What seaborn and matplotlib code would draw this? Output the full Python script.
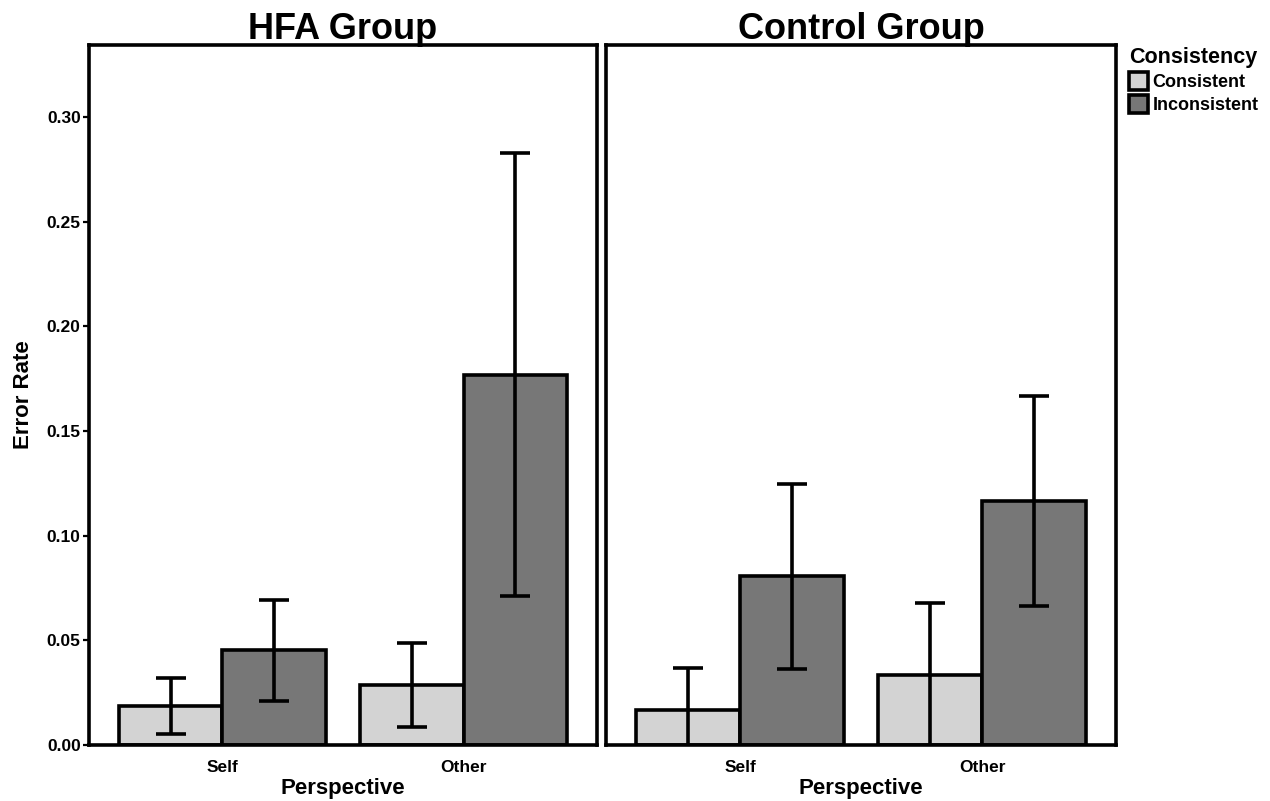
import matplotlib
matplotlib.use('Agg')
import matplotlib.pyplot as plt
from matplotlib.patches import Patch
import seaborn as sns
import pandas as pd

# values
groups = ['HFA Group', 'Control Group']
perspectives = ['Self', 'Other']
consistency = ['Consistent', 'Inconsistent']

# order: (Self, Consistent), (Self, Inconsistent), (Other, Consistent), (Other, Inconsistent)
hfa_rate = [0.0186, 0.0454, 0.0287, 0.1770]
hfa_low = [0.0055, 0.0210, 0.0086, 0.0712]
hfa_high = [0.0320, 0.0693, 0.0487, 0.2830]

ctrl_rate = [0.0167, 0.0807, 0.0334, 0.1166]
ctrl_low = [-0.0030, 0.0363, -0.0010, 0.0664]
ctrl_high = [0.0368, 0.1247, 0.0678, 0.1667]

colors = {'Consistent': '#D3D3D3', 'Inconsistent': '#777777'}

rows = []
for g, rates, lows, highs in [(groups[0], hfa_rate, hfa_low, hfa_high),
                              (groups[1], ctrl_rate, ctrl_low, ctrl_high)]:
    i = 0
    for p in perspectives:
        for c in consistency:
            rows.append({'Group': g, 'Perspective': p, 'Consistency': c,
                         'Rate': rates[i], 'Low': lows[i], 'High': highs[i]})
            i += 1
df = pd.DataFrame(rows)

sns.set_style('white')
plt.rcParams['font.family'] = ['Liberation Sans', 'DejaVu Sans']
plt.rcParams['font.weight'] = 'bold'
plt.rcParams['text.color'] = 'black'
plt.rcParams['axes.labelcolor'] = 'black'
plt.rcParams['xtick.color'] = 'black'
plt.rcParams['ytick.color'] = 'black'

lw = 2.6

fig = plt.figure(figsize=(12.7, 8.01), dpi=100)
ax1 = fig.add_axes([0.0701, 0.0699, 0.4000, 0.8739])
ax2 = fig.add_axes([0.4772, 0.0699, 0.4016, 0.8739])

for ax, g in [(ax1, groups[0]), (ax2, groups[1])]:
    sub = df[df['Group'] == g]
    sns.barplot(data=sub, x='Perspective', y='Rate', hue='Consistency',
                order=perspectives, hue_order=consistency, palette=colors,
                width=0.86, errorbar=None, edgecolor='black', linewidth=lw,
                legend=False, ax=ax)
    # error bars at the bar centres
    for bar_c, c in zip([ax.patches[0:2], ax.patches[2:4]], consistency):
        part = sub[sub['Consistency'] == c].set_index('Perspective').loc[perspectives]
        xs = [b.get_x() + b.get_width() / 2 for b in bar_c]
        ax.errorbar(xs, part['Rate'],
                    yerr=[part['Rate'] - part['Low'], part['High'] - part['Rate']],
                    fmt='none', ecolor='black', elinewidth=lw, capsize=10.5,
                    capthick=lw, zorder=5)
    ax.set_xlim(-0.553, 1.553)
    ax.set_ylim(0, 0.3345)
    ax.set_title(g, fontsize=26, fontweight='bold', pad=4, color='black')
    ax.set_xlabel('Perspective', fontsize=16, fontweight='bold', labelpad=2)
    ax.tick_params(axis='x', length=0, labelsize=12.5, pad=11)
    for s in ax.spines.values():
        s.set_visible(True)
        s.set_linewidth(lw)
        s.set_color('black')

ax1.set_yticks([0, 0.05, 0.10, 0.15, 0.20, 0.25, 0.30])
ax1.set_yticklabels(['0.00', '0.05', '0.10', '0.15', '0.20', '0.25', '0.30'])
ax1.tick_params(axis='y', length=4, width=1.6, labelsize=12.5, direction='out',
                left=True, pad=2)
ax1.set_ylabel('Error Rate', fontsize=16, fontweight='bold', labelpad=9)
ax2.set_yticks([])
ax2.set_ylabel('')

handles = [Patch(facecolor=colors[c], edgecolor='black', linewidth=lw, label=c)
           for c in consistency]
leg = fig.legend(handles=handles, title='Consistency', loc='upper left',
                 bbox_to_anchor=(0.879, 0.957), frameon=False, fontsize=13,
                 title_fontproperties={'size': 15.5, 'weight': 'bold'},
                 handlelength=1.05, handleheight=1.15, handletextpad=0.25,
                 labelspacing=0.2, borderpad=0.2)
leg._legend_box.align = 'left'
leg._legend_box.sep = 3

fig.savefig('out.png', dpi=100)
